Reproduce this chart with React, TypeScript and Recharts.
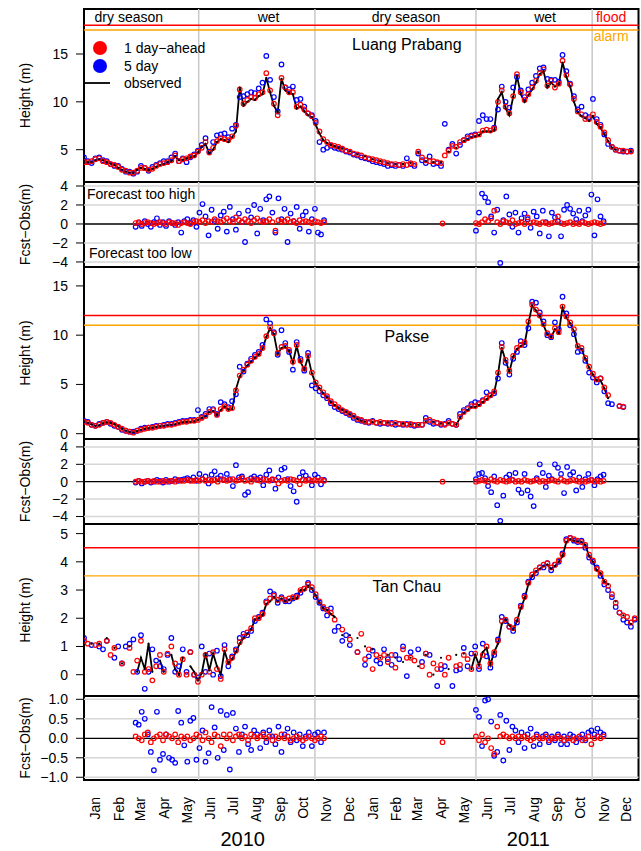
import React from 'react'
import {
  ComposedChart,
  Line,
  XAxis,
  YAxis,
  ReferenceLine,
  ReferenceArea,
  ReferenceDot,
} from 'recharts'

const FONT = '"Liberation Sans", Arial, Helvetica, sans-serif'

// ---------- time axis (days since 1 Jan 2010) ----------
const monthNames = ['Jan', 'Feb', 'Mar', 'Apr', 'May', 'Jun', 'Jul', 'Aug', 'Sep', 'Oct', 'Nov', 'Dec']
const monthStarts = [0, 31, 59, 90, 120, 151, 181, 212, 243, 273, 304, 334,
  365, 396, 424, 455, 485, 516, 546, 577, 608, 638, 669, 699]
const monthMids = monthStarts.map((d) => d + 15)
const seasonBreaks = [151, 304, 516, 669]
const yearTicks = [209, 585]
const yearLabels = ['2010', '2011']

function range(a: number, b: number, step: number) {
  const out: number[] = []
  for (let d = a; d <= b; d += step) out.push(d)
  return out
}
const gridDays = range(0, 725, 5)
const resDays2010 = range(68, 316, 4)
const resDays2011 = range(516, 684, 4)
const aprDay = 472

// ---------- Luang Prabang ----------
const lpObs = [
  3.8, 3.7, 3.7, 3.9, 4.0, 3.9, 3.7, 3.55, 3.4, 3.1,
  2.9, 2.7, 2.6, 2.55, 2.9, 3.1, 3.0, 2.85, 3.0, 3.2,
  3.4, 3.5, 3.7, 3.8, 4.3, 3.9, 3.95, 4.1, 4.2, 4.3,
  4.7, 5.3, 5.6, 4.6, 5.0, 5.8, 6.1, 6.0, 5.8, 6.3,
  6.9, 11.5, 9.6, 10.0, 10.3, 10.2, 10.6, 10.8, 12.5, 11.0,
  9.6, 8.9, 12.4, 11.2, 10.9, 10.8, 9.3, 9.5, 9.0, 8.6,
  8.4, 7.6, 6.7, 6.0, 5.7, 5.5, 5.35, 5.2, 5.1, null,
  4.8, null, 4.5, null, 4.3, null, 4.0, null, 3.8, null,
  3.6, null, 3.5, null, 3.5, null, 3.6, null, 4.7, null,
  3.8, null, 3.7, null, 3.7, null, 4.8, null, 5.2, null,
  5.9, 6.1, 6.3, 6.4, 6.5, 6.9, 6.9, 6.9, 7.0, 10.3,
  11.0, 9.3, 8.6, 10.5, 12.7, 10.8, 10.0, 10.7, 11.3, 12.0,
  12.9, 13.2, 11.5, 12.0, 11.6, 11.8, 14.1, 12.6, 11.6, 10.0,
  8.9, 8.5, 8.3, 8.0, 8.5, 7.7, 7.3, 6.6, 5.9, 5.2,
  5.0, null, 4.9, null, 4.85, null,
]
const lpFc1 = [
  3.7, 3.7, 3.8, 4.0, 4.1, 3.8, 3.7, 3.5, 3.4, 3.2,
  2.9, 2.8, 2.6, 2.6, 2.8, 3.1, 3.1, 2.9, 3.0, 3.3,
  3.5, 3.6, 3.7, 3.9, 4.4, 3.8, 4.0, 4.1, 4.3, 4.4,
  4.8, 5.2, 5.8, 4.7, 5.2, 5.9, 6.2, 6.1, 6.0, 6.4,
  7.5, 11.3, 9.8, 10.2, 10.5, 10.4, 10.8, 11.0, 13.0, 11.2,
  9.8, 8.6, 12.5, 11.5, 11.0, 11.0, 9.5, 9.7, 9.2, 8.8,
  8.5, 7.8, 6.9, 6.1, 5.8, 5.5, 5.4, 5.3, 5.1, 4.9,
  4.8, 4.6, 4.5, 4.4, 4.2, 4.1, 4.0, 3.9, 3.8, 3.7,
  3.6, 3.5, 3.5, 3.4, 3.5, 3.4, 3.6, 3.5, 4.8, 4.2,
  3.9, 3.8, 3.8, 3.7, 3.6, 4.4, 4.9, 5.4, 5.3, 5.8,
  6.0, 6.2, 6.4, 6.5, 6.6, 7.0, 7.1, 7.0, 7.2, 10.0,
  11.2, 9.5, 8.8, 10.6, 12.9, 11.0, 10.2, 10.8, 11.5, 12.2,
  13.0, 13.4, 11.7, 12.2, 11.5, 11.9, 14.3, 12.8, 11.8, 10.3,
  9.0, 8.7, 8.2, 8.2, 8.7, 7.9, 7.4, 6.8, 6.0, 5.3,
  5.0, 4.9, 4.9, 4.8, 4.8, null,
]
const lpFc5 = [
  4.2, 3.8, 3.6, 4.1, 4.2, 3.9, 3.8, 3.5, 3.3, 3.3,
  3.0, 2.7, 2.7, 2.5, 2.7, 3.3, 3.1, 2.8, 3.2, 3.4,
  3.6, 3.8, 3.8, 4.2, 4.6, 3.8, 4.1, 3.7, 4.2, 4.5,
  4.9, 5.5, 6.2, 4.8, 5.8, 6.5, 6.6, 6.7, 6.3, 7.2,
  7.6, 10.5, 10.6, 10.8, 11.0, 10.9, 11.4, 12.0, 14.8, 12.3,
  10.5, 9.0, 13.9, 11.5, 11.3, 11.6, 10.2, 10.3, 9.5, 8.8,
  8.6, 8.0, 5.8, 5.0, 5.2, 5.4, 5.2, 5.1, 5.0, 4.8,
  4.7, 4.5, 4.4, 4.2, 4.1, 4.0, 3.8, 3.7, 3.6, 3.5,
  3.3, 3.4, 3.3, 3.4, 3.3, 4.1, 3.5, 3.3, 4.6, 3.9,
  3.6, 4.3, 3.5, 3.6, 3.3, 7.7, 5.0, 5.6, 4.6, 5.5,
  6.0, 6.4, 6.5, 6.6, 8.0, 8.6, 8.2, 8.2, 7.3, 9.2,
  11.6, 10.0, 9.4, 11.5, 12.6, 11.2, 10.5, 11.3, 12.0, 12.7,
  13.5, 13.6, 12.4, 12.3, 12.3, 12.1, 14.9, 13.2, 11.9, 10.6,
  9.2, 9.5, 8.6, 8.4, 10.3, 8.2, 7.6, 6.6, 5.6, 5.3,
  5.0, 4.9, 4.8, 4.8, 4.9, null,
]
const lpErr1a = [
  0.1, 0.2, 0.0, 0.1, 0.2, 0.1, 0.0, 0.1, 0.2, 0.1,
  0.0, 0.2, 0.1, 0.1, -0.1, 0.1, 0.2, 0.1, 0.0, 0.2,
  0.3, 0.2, 0.4, 0.1, 0.3, 0.2, 0.5, 0.3, 0.2, 0.4,
  0.6, 0.3, 0.2, 0.7, 0.4, 0.2, 0.5, 0.3, 0.1, 0.4,
  0.6, 0.3, 0.2, 0.3, 0.5, 0.2, -0.7, 0.4, 0.2, 0.3,
  0.5, 0.2, 0.3, 0.1, 0.4, 0.2, 0.3, 0.2, 0.1, 0.3,
  0.2, 0.1, 0.2,
]
const lpErr5a = [
  -0.3, 0.1, -0.2, 0.3, 0.0, -0.3, 0.2, 0.6, -0.1, 0.2,
  -0.2, 0.3, 0.1, -0.1, 0.2, -0.9, 0.3, 0.5, 0.1, 0.4,
  -0.3, 1.2, 2.1, 0.8, -1.2, 1.5, 0.3, -0.5, 0.9, 1.3,
  -0.8, 1.8, 0.5, -0.6, 1.1, 0.2, -1.9, 1.4, 0.7, 2.0,
  -1.0, 1.6, 0.4, 2.6, 2.9, 1.2, -0.9, 2.7, 0.5, 1.6,
  -1.9, 1.1, 0.3, 1.8, -0.5, 0.9, 1.3, -0.8, 0.5, 1.6,
  -0.9, -1.1, 0.4,
]
const lpErr1Apr = 0.05
const lpErr1b = [
  0.1, 0.0, 0.2, 0.5, 0.3, 0.6, 1.4, 0.2, 0.0, 0.3,
  0.2, 0.1, 0.4, 0.0, 0.1, 0.2, 0.0, 0.7, 0.1, 0.2,
  0.1, 0.0, 0.2, 0.1, 0.0, 0.1, 0.2, 0.8, 0.1, 0.0,
  0.1, 0.2, 0.0, 0.1, 0.0, 0.2, 0.1, 0.0, 0.1, 0.2,
  0.1, 0.0, 0.1,
]
const lpErr5b = [
  -0.7, 1.2, 3.2, 2.8, 2.3, 0.8, -0.9, 1.5, -4.1, 0.4,
  2.9, 1.0, -0.3, 1.2, -0.9, 0.6, 1.1, 0.5, -0.4, 1.3,
  0.8, -1.0, 1.4, 0.2, -1.3, 1.2, 0.7, 0.3, -1.3, 1.5,
  2.0, 1.6, 1.1, 0.5, 1.4, 0.3, 0.9, 1.5, 3.1, -1.2,
  2.6, 0.8, 0.3,
]

// ---------- Pakse ----------
const pkObs = [
  1.2, 1.1, 0.95, 0.8, 0.85, 1.05, 1.15, 1.1, 0.95, 0.75,
  0.5, 0.3, 0.18, 0.12, 0.25, 0.4, 0.5, 0.55, 0.62, 0.7,
  0.75, 0.8, 0.85, 0.9, 0.95, 1.05, 1.15, 1.2, 1.2, 1.25,
  1.4, 1.6, 1.75, 2.2, 2.3, 1.9, 2.4, 2.75, 2.45, 2.5,
  4.5, 5.8, 6.4, 6.9, 7.3, 7.7, 8.0, 8.6, 9.8, 10.7,
  10.1, 8.1, 8.7, 8.8, 8.4, 7.2, 8.9, 7.3, 6.5, 7.8,
  6.1, 5.1, 4.6, 4.1, 3.7, 3.2, 2.9, 2.6, 2.4, 2.2,
  1.95, 1.75, 1.5, 1.3, 1.2, null, 1.2, null, 1.15, null,
  1.1, null, 1.05, null, 1.0, null, 0.95, null, 0.9, null,
  1.2, null, 1.2, null, 1.0, null, 1.05, null, 0.9, 1.6,
  2.1, 2.4, 2.7, 2.7, 2.9, 3.2, 3.5, 3.8, 4.2, 6.0,
  8.7, 7.4, 6.3, 7.8, 8.6, 8.9, 9.1, 11.2, 13.0, 12.5,
  11.9, 11.0, 10.1, 9.8, 10.6, 10.2, 12.8, 11.8, 11.2, 10.4,
  8.8, 8.6, 7.6, 6.7, 6.0, 5.4, 5.4, 4.6, 3.6, null,
  null, null, null, null, null, null,
]
const pkFc1 = [
  1.2, 1.1, 0.9, 0.8, 0.9, 1.1, 1.2, 1.1, 0.9, 0.7,
  0.5, 0.3, 0.2, 0.1, 0.3, 0.4, 0.5, 0.6, 0.6, 0.7,
  0.8, 0.8, 0.9, 0.9, 1.0, 1.1, 1.2, 1.2, 1.3, 1.3,
  1.4, 1.6, 1.8, 2.2, 2.4, 1.9, 2.5, 2.8, 2.5, 2.6,
  4.4, 5.9, 6.5, 7.0, 7.4, 7.8, 8.1, 8.7, 9.9, 10.8,
  10.2, 8.2, 8.8, 8.9, 8.5, 7.3, 9.0, 7.4, 6.6, 7.9,
  6.2, 5.2, 4.7, 4.2, 3.8, 3.3, 3.0, 2.7, 2.4, 2.2,
  2.0, 1.8, 1.5, 1.4, 1.2, 1.2, 1.2, 1.1, 1.2, 1.1,
  1.1, 1.0, 1.1, 1.0, 1.0, 0.9, 1.0, 0.9, 0.9, 0.9,
  1.3, 1.4, 1.2, 1.1, 1.0, 0.9, 1.1, 1.0, 0.9, 1.7,
  2.2, 2.5, 2.8, 2.8, 3.0, 3.3, 3.6, 3.9, 4.3, 6.2,
  8.8, 7.5, 6.4, 7.9, 8.7, 9.0, 9.3, 11.4, 13.1, 12.6,
  12.0, 11.1, 10.2, 9.9, 10.7, 10.3, 12.9, 11.9, 11.3, 10.6,
  8.9, 8.7, 7.7, 6.8, 6.1, 5.5, 5.6, 4.7, 3.9, null,
  null, 2.8, 2.75, null, null, null,
]
const pkFc5 = [
  1.3, 1.2, 0.9, 0.8, 1.0, 1.1, 1.2, 1.0, 0.8, 0.7,
  0.4, 0.3, 0.2, 0.2, 0.3, 0.5, 0.6, 0.6, 0.7, 0.8,
  0.8, 0.9, 1.0, 1.0, 1.1, 1.2, 1.3, 1.3, 1.4, 1.4,
  2.4, 1.7, 2.0, 2.5, 2.5, 2.0, 3.2, 3.0, 2.7, 3.3,
  4.0, 6.8, 6.3, 7.1, 7.6, 8.0, 8.3, 9.0, 11.6, 11.2,
  10.3, 8.0, 10.5, 9.2, 8.3, 6.5, 9.3, 7.6, 6.4, 8.2,
  4.9, 4.6, 4.3, 3.9, 3.6, 3.1, 2.7, 2.5, 2.3, 2.1,
  1.9, 1.6, 1.4, 1.3, 1.2, 1.1, 1.3, 1.1, 1.0, 1.1,
  1.0, 1.1, 0.9, 1.0, 0.9, 1.0, 0.9, 0.8, 0.9, 0.9,
  1.6, 1.2, 1.0, 1.1, 0.9, 1.0, 1.3, 1.0, 0.9, 2.0,
  2.4, 2.6, 3.0, 3.2, 3.1, 3.4, 4.2, 3.9, 4.1, 5.6,
  9.2, 7.2, 6.0, 7.6, 8.3, 9.4, 9.0, 10.7, 13.4, 13.3,
  12.3, 11.4, 10.0, 9.8, 11.3, 10.6, 13.9, 12.2, 11.0, 10.1,
  8.3, 8.4, 7.4, 6.2, 5.7, 5.2, 5.6, 4.3, 3.1, 3.0,
  null, 2.8, 2.7, null, null, null,
]
const pkErr1a = [
  0.0, 0.1, 0.0, 0.0, 0.1, 0.0, 0.1, 0.0, 0.0, 0.1,
  0.0, 0.1, 0.1, 0.0, 0.2, 0.1, 0.1, 0.2, 0.1, 0.1,
  0.2, 0.1, 0.3, 0.1, 0.2, 0.1, 0.2, 0.0, 0.3, 0.2,
  0.1, 0.2, 0.3, 0.1, 0.2, 0.4, 0.1, 0.2, 0.0, 0.3,
  0.2, 0.1, 0.3, 0.2, 0.1, 0.3, 0.2, -0.2, 0.1, 0.2,
  0.1, 0.3, 0.2, 0.1, -0.3, 0.2, 0.1, 0.2, 0.1, 0.2,
  0.1, 0.2, 0.1,
]
const pkErr5a = [
  -0.1, 0.1, -0.2, 0.0, 0.1, -0.1, 0.0, 0.2, 0.1, -0.1,
  0.2, 0.0, 0.1, 0.3, 0.1, 0.2, 0.3, 0.4, 0.2, 0.5,
  0.1, 0.9, 0.3, 0.6, -0.2, 0.8, 1.2, 0.4, 0.7, 0.2,
  0.9, 0.3, -0.5, 1.9, 0.5, 0.6, -1.5, -1.2, 0.4, 0.6,
  0.3, 0.5, -0.4, 0.8, 1.3, 0.2, -0.8, 0.5, 1.4, 1.6,
  0.3, -0.5, -1.1, -2.3, 0.5, 1.1, 0.7, 0.3, -0.4, 0.8,
  0.5, -0.3, 0.2,
]
const pkErr1Apr = 0.0
const pkErr1b = [
  0.0, 0.1, 0.2, 0.1, 0.0, 0.3, 0.1, 0.0, 0.2, 0.1,
  0.0, 0.1, 0.2, 0.0, 0.1, 0.0, 0.2, 0.1, 0.0, 0.1,
  0.2, 0.0, 0.1, 0.0, 0.1, 0.2, 0.1, 0.0, 0.3, 0.1,
  0.0, 0.1, 0.2, 0.1, 0.0, 0.1, 0.0, 0.1, 0.2, 0.0,
  0.1, 0.0, 0.1,
]
const pkErr5b = [
  0.3, 0.9, 1.0, 0.4, -0.5, -1.2, 0.6, -2.7, -4.5, -1.6,
  0.5, 0.8, 0.2, 1.0, -0.9, -1.3, 0.9, -1.0, -1.7, -2.8,
  0.4, 2.0, 1.0, -0.6, 0.7, 0.3, 2.0, 1.6, 0.9, -1.3,
  1.7, 0.8, 1.1, -1.0, 0.5, -0.6, 0.3, 0.9, 0.2, -0.4,
  0.3, 0.6, 0.8,
]

// ---------- Tan Chau ----------
const tcObs = [
  1.4, null, 1.1, null, 1.1, null, 1.3, null, 0.95, null,
  0.4, null, 1.0, null, 0.1, 0.6, 0.2, 1.1, 0.1, null,
  0.5, 0.1, null, 0.7, 0.2, 0.0, 0.6, null, 0.3, 0.1,
  -0.2, 0.05, 0.75, 0.15, 0.75, 0.3, 0.0, 0.85, 0.4, 0.55,
  0.8, 1.1, 1.3, 1.45, 1.6, 1.95, 2.0, 2.1, 2.5, 2.6,
  2.75, 2.6, 2.7, 2.6, 2.65, 2.7, 2.7, 3.0, 3.0, 3.15,
  3.05, 2.8, 2.55, 2.35, 2.3, 2.15, 2.05, null, 1.4, null,
  1.4, null, 1.3, null, 1.0, null, 0.9, null, 0.6, null,
  0.7, null, 0.6, null, 0.45, null, 0.6, null, 0.3, null,
  0.7, null, 0.0, null, 0.6, null, 0.2, null, 0.7, null,
  0.75, null, 0.2, 0.7, 0.35, 0.8, 0.95, 0.35, 0.8, 1.1,
  1.8, 1.95, 1.75, 1.6, 1.9, 2.35, 2.7, 3.2, 3.5, 3.65,
  3.75, 3.85, 3.9, 3.75, 3.85, 4.0, 4.2, 4.7, 4.8, 4.75,
  4.72, 4.7, 4.6, 4.2, 4.0, 3.7, 3.6, 3.3, 3.2, null,
  2.6, null, 2.1, null, 1.8, null,
]
const tcFc1 = [
  1.2, 1.1, null, 1.05, 1.1, null, 1.2, 0.7, 0.95, null,
  0.4, null, 0.95, 0.1, 0.5, 1.2, 0.1, 0.2, -0.2, 0.3,
  0.7, 0.1, 0.75, 1.0, 0.4, 0.0, 0.55, 0.0, 0.8, 0.0,
  -0.25, 0.0, 0.7, 0.1, 0.8, 0.2, -0.15, 0.9, 0.45, 0.6,
  0.85, 1.15, 1.35, 1.5, 1.65, 2.0, 2.0, 2.15, 2.55, 2.7,
  2.8, 2.65, 2.7, 2.65, 2.7, 2.75, 2.75, 3.0, 3.05, 3.2,
  3.1, 2.85, 2.6, 2.4, 2.3, 2.2, 1.95, null, 1.6, null,
  1.25, null, 0.8, 1.45, 0.55, 0.9, 0.2, 0.7, 0.6, 0.7,
  0.45, 0.7, 0.25, null, 0.9, 0.6, 0.6, 0.5, null, 0.3,
  0.75, 0.0, 0.4, 0.2, 0.35, 0.0, 0.6, null, 0.3, 0.35,
  0.7, 0.55, 0.2, 0.75, 0.3, 0.7, 1.0, 0.4, 0.8, 1.2,
  1.9, 1.95, 1.7, 1.65, 1.95, 2.4, 2.75, 3.25, 3.55, 3.7,
  3.8, 3.9, 3.95, 3.8, 3.9, 4.05, 4.25, 4.75, 4.85, 4.8,
  4.75, 4.7, 4.6, 4.25, 4.05, 3.75, 3.6, 3.3, 3.15, 2.85,
  2.55, 2.2, 2.1, 2.05, 1.85, 2.0,
]
const tcFc5 = [
  1.3, null, 1.05, null, 1.0, 0.9, 1.2, null, 0.6, 1.0,
  0.4, 1.0, 1.1, 1.25, 0.1, 1.4, -0.5, 0.1, 0.9, 0.5,
  0.3, 0.2, 0.7, 1.3, 0.1, 0.3, 0.9, 0.1, 0.8, 0.0,
  -0.1, 1.0, 0.1, 0.75, 0.0, 0.85, -0.05, 1.05, 0.3, 0.65,
  0.9, 1.3, 1.45, 1.4, 1.55, 1.9, 2.05, 2.2, 2.6, 2.95,
  2.85, 2.55, 2.75, 2.6, 2.6, 2.7, 2.8, 2.9, 3.05, 3.25,
  3.0, 2.75, 2.55, 2.35, 2.1, 2.35, 1.55, 1.7, 1.2, 1.4,
  1.05, null, 0.8, null, 0.35, 0.65, 0.85, 0.5, 0.4, 0.9,
  0.55, 0.35, 0.7, 0.55, 1.0, -0.05, 0.8, null, 0.9, 0.45,
  0.75, 0.7, null, -0.4, 0.2, 0.3, null, -0.4, 0.15, 0.2,
  0.95, 0.3, 0.75, 1.0, 0.2, 1.1, 0.65, 0.25, 0.7, 1.25,
  2.05, 1.9, 1.7, 1.55, 1.85, 2.45, 2.8, 3.3, 3.45, 3.6,
  3.8, 3.8, 3.95, 3.7, 3.9, 4.0, 4.3, 4.8, 4.85, 4.75,
  4.7, 4.75, 4.5, 4.15, 4.0, 3.8, 3.5, 3.2, 3.0, 2.75,
  2.4, 2.2, 1.95, 1.85, 1.7, 1.95,
]
const tcErr1a = [
  0.05, 0.0, -0.05, 0.1, 0.15, -0.1, 0.0, 0.05, 0.1, -0.05,
  0.1, 0.05, 0.0, 0.1, -0.1, 0.05, 0.0, 0.05, -0.05, 0.0,
  0.1, 0.05, -0.05, 0.15, 0.0, -0.1, 0.1, 0.05, -0.2, 0.1,
  0.0, 0.1, -0.05, 0.05, 0.1, 0.0, 0.05, -0.05, 0.1, 0.05,
  0.0, 0.05, 0.1, 0.0, 0.05, -0.05, 0.05, 0.0, 0.1, 0.0,
  0.05, -0.05, 0.0, 0.05, 0.0, -0.05, 0.0, 0.05, 0.0, -0.05,
  0.0, 0.05, 0.0,
]
const tcErr5a = [
  0.4, 0.35, 0.68, 0.5, 0.1, -0.35, -0.82, 0.68, -0.55, -0.4,
  0.1, -0.5, -0.55, -0.63, 0.7, 0.4, -0.18, -0.6, 0.45, 0.52,
  -0.55, -0.25, 0.2, -0.6, -0.38, 0.8, 0.28, -0.5, 0.7, -0.3,
  0.6, -0.8, 0.65, 0.25, -0.35, 0.1, 0.3, -0.15, -0.3, 0.2,
  0.1, -0.25, 0.15, -0.1, 0.2, 0.05, -0.15, 0.3, -0.35, 0.1,
  0.25, -0.1, 0.15, -0.05, 0.1, -0.2, 0.05, 0.15, -0.2, 0.1,
  0.15, -0.1, 0.15,
]
const tcErr1Apr = -0.1
const tcErr1b = [
  0.05, -0.05, 0.1, -0.1, 0.0, -0.25, -0.4, 0.3, 0.05, 0.1,
  0.05, 0.0, 0.05, 0.0, 0.05, 0.0, 0.05, 0.0, -0.05, 0.0,
  0.05, 0.0, 0.0, 0.05, -0.05, 0.0, 0.0, 0.05, 0.0, -0.05,
  0.0, 0.0, -0.05, 0.0, 0.05, -0.05, 0.0, 0.05, -0.15, 0.0,
  0.05, 0.0, 0.05,
]
const tcErr5b = [
  0.73, 0.55, -0.2, 0.97, 1.0, 0.43, -0.45, -0.35, 0.6, -0.57,
  0.45, -0.3, 0.3, 0.2, -0.1, 0.15, -0.25, 0.1, 0.25, -0.2,
  0.1, -0.15, 0.05, 0.1, -0.1, 0.05, -0.05, 0.1, -0.15, 0.05,
  -0.15, 0.1, 0.05, -0.1, 0.0, 0.1, -0.05, 0.15, 0.2, 0.1,
  0.25, 0.15, 0.1,
]

// ---------- table builders ----------
type Val = number | null
function heightRows(obs: Val[], f1: Val[], f5: Val[]) {
  return gridDays.map((day, i) => ({ day, obs: obs[i] ?? null, f1: f1[i] ?? null, f5: f5[i] ?? null }))
}
function residRows(e1a: Val[], e5a: Val[], e1apr: number, e1b: Val[], e5b: Val[]) {
  const rows: { day: number; e1: Val; e5: Val }[] = []
  resDays2010.forEach((day, i) => rows.push({ day, e1: e1a[i] ?? null, e5: e5a[i] ?? null }))
  rows.push({ day: aprDay, e1: e1apr, e5: null })
  resDays2011.forEach((day, i) => rows.push({ day, e1: e1b[i] ?? null, e5: e5b[i] ?? null }))
  return rows
}

const RED = '#ff0000'
const BLUE = '#0000ff'
const ORANGE = '#ffa500'
const GREY = '#c8c8c8'
const PAD = 12

const minus = (s: string) => s.replace('-', '\u2212')

function AxisTitle(props: any) {
  const { text, cy } = props
  return (
    <text x={25} y={cy} transform={`rotate(-90 25 ${cy})`} textAnchor="middle"
      dominantBaseline="central" fontSize={14} fill="#000">
      {text}
    </text>
  )
}

function PlotText(props: any) {
  const vb = props.viewBox || { x: 0, y: 0, width: 0, height: 0 }
  return (
    <text x={vb.x + vb.width / 2} y={vb.y + vb.height / 2} textAnchor={props.anchor ?? 'middle'}
      dominantBaseline="central" fontSize={props.size ?? 14} fill={props.color ?? '#000'}>
      {props.text}
    </text>
  )
}

function MonthTick(props: any) {
  const { x, y, payload } = props
  const i = monthMids.indexOf(payload.value)
  return (
    <text x={x} y={y} transform={`rotate(-90 ${x} ${y})`} textAnchor="end"
      dominantBaseline="central" fontSize={14} fill="#000">
      {monthNames[i % 12]}
    </text>
  )
}

type Txt = { x: number; y: number; text: string; color?: string; size?: number; anchor?: string }

interface PanelProps {
  top: number
  height: number
  rows: any[]
  domain: [number, number]
  ticks: number[]
  fmt: (v: number) => string
  yTitle: string
  kind: 'height' | 'resid'
  hLines: { y: number; color: string; width: number }[]
  texts?: Txt[]
  xAxis?: boolean
}

function Panel(p: PanelProps) {
  const axisH = p.xAxis ? 71 : 0
  const padBottom = p.xAxis ? 0 : PAD
  const k1 = p.kind === 'height' ? 'f1' : 'e1'
  const k5 = p.kind === 'height' ? 'f5' : 'e5'
  return (
    <div style={{ position: 'absolute', left: 0, top: p.top - PAD }}>
      <ComposedChart width={641} height={p.height + axisH + PAD + padBottom} data={p.rows}
        margin={{ top: PAD, right: 2.5, bottom: padBottom, left: 0 }}>
        {p.xAxis ? (
          <XAxis dataKey="day" type="number" domain={[0, 730]} allowDataOverflow ticks={monthStarts}
            interval={0} height={8} tickSize={8} tick={false} axisLine={false}
            tickLine={{ stroke: '#000', strokeWidth: 1 }} />
        ) : (
          <XAxis dataKey="day" type="number" domain={[0, 730]} allowDataOverflow hide />
        )}
        {p.xAxis && (
          <XAxis xAxisId="months" dataKey="day" type="number" domain={[0, 730]} allowDataOverflow
            ticks={monthMids} interval={0} height={42} tickSize={0} tickMargin={9}
            axisLine={false} tickLine={false} tick={<MonthTick />} />
        )}
        {p.xAxis && (
          <XAxis xAxisId="years" dataKey="day" type="number" domain={[0, 730]} allowDataOverflow
            ticks={yearTicks} interval={0} height={21} tickSize={0} tickMargin={2}
            axisLine={false} tickLine={false}
            tickFormatter={(v: number) => yearLabels[yearTicks.indexOf(v)]}
            tick={{ fontSize: 20, fill: '#000' }} />
        )}
        <YAxis type="number" domain={p.domain} allowDataOverflow ticks={p.ticks} interval={0}
          width={84} tickSize={8} tickMargin={8} axisLine={false}
          tickLine={{ stroke: '#000', strokeWidth: 1 }}
          tick={{ fontSize: 14, fill: '#000' }} tickFormatter={p.fmt}
          label={<AxisTitle text={p.yTitle} cy={PAD + p.height / 2} />} />

        {seasonBreaks.map((d) => (
          <ReferenceLine key={`s${d}`} x={d} stroke={GREY} strokeWidth={1.5} />
        ))}
        {p.hLines.map((h) => (
          <ReferenceLine key={`h${h.y}`} y={h.y} stroke={h.color} strokeWidth={h.width} />
        ))}

        <Line dataKey={k5} stroke="none" isAnimationActive={false} activeDot={false}
          dot={{ r: 2.3, stroke: BLUE, strokeWidth: 1.2, fill: 'none' }} />
        <Line dataKey={k1} stroke="none" isAnimationActive={false} activeDot={false}
          dot={{ r: 2.3, stroke: RED, strokeWidth: 1.2, fill: 'none' }} />
        {p.kind === 'height' && (
          <Line dataKey="obs" stroke="#000" strokeWidth={1.8} connectNulls={false}
            isAnimationActive={false} activeDot={false}
            dot={{ r: 1.1, fill: '#000', stroke: '#000', strokeWidth: 0 }} />
        )}

        {(p.texts || []).map((t, i) => (
          <ReferenceDot key={`t${i}`} x={t.x} y={t.y} r={0} ifOverflow="visible"
            label={<PlotText text={t.text} color={t.color} size={t.size} anchor={t.anchor} />} />
        ))}

        <ReferenceArea x1={0} x2={730} y1={p.domain[0]} y2={p.domain[1]} fill="none"
          stroke="#000" strokeWidth={2} ifOverflow="visible" />
      </ComposedChart>
    </div>
  )
}

const lpRows = heightRows(lpObs, lpFc1, lpFc5)
const pkRows = heightRows(pkObs, pkFc1, pkFc5)
const tcRows = heightRows(tcObs, tcFc1, tcFc5)
const lpRes = residRows(lpErr1a, lpErr5a, lpErr1Apr, lpErr1b, lpErr5b)
const pkRes = residRows(pkErr1a, pkErr5a, pkErr1Apr, pkErr1b, pkErr5b)
const tcRes = residRows(tcErr1a, tcErr5a, tcErr1Apr, tcErr1b, tcErr5b)

const intFmt = (v: number) => minus(String(v))
const oneDec = (v: number) => minus(v.toFixed(1))
const zeroLine = { y: 0, color: '#000', width: 1.3 }
const gridCol = '#d6d6d6'

export default function App() {
  return (
    <div style={{ position: 'absolute', left: 0, top: 0, width: 641, height: 851, background: '#fff', fontFamily: FONT }}>
      <Panel top={9} height={173} rows={lpRows} domain={[1.625, 19.7]} ticks={[5, 10, 15]} fmt={intFmt}
        yTitle="Height (m)" kind="height"
        hLines={[{ y: 18, color: RED, width: 1.4 }, { y: 17.5, color: ORANGE, width: 1.4 }]}
        texts={[
          { x: 59, y: 18.87, text: 'dry season' },
          { x: 243, y: 18.87, text: 'wet' },
          { x: 424, y: 18.87, text: 'dry season' },
          { x: 607, y: 18.87, text: 'wet' },
          { x: 694, y: 18.87, text: 'flood', color: RED },
          { x: 694, y: 16.88, text: 'alarm', color: ORANGE },
          { x: 425, y: 15.94, text: 'Luang Prabang', size: 16 },
        ]} />
      <Panel top={182} height={85} rows={lpRes} domain={[-4.53, 4.42]} ticks={[-4, -2, 0, 2, 4]} fmt={intFmt}
        yTitle={'Fcst\u2212Obs(m)'} kind="resid"
        hLines={[
          { y: -4, color: gridCol, width: 1.5 }, { y: -2, color: gridCol, width: 1.5 },
          { y: 2, color: gridCol, width: 1.5 }, { y: 4, color: gridCol, width: 1.5 }, zeroLine,
        ]}
        texts={[
          { x: 4, y: 3.16, text: 'Forecast too high', anchor: 'start' },
          { x: 6.5, y: -3.02, text: 'Forecast too low', anchor: 'start' },
        ]} />
      <Panel top={267} height={172} rows={pkRows} domain={[-0.54, 16.92]} ticks={[0, 5, 10, 15]} fmt={intFmt}
        yTitle="Height (m)" kind="height"
        hLines={[{ y: 12, color: RED, width: 1.4 }, { y: 11, color: ORANGE, width: 1.4 }]}
        texts={[{ x: 425, y: 9.85, text: 'Pakse', size: 16 }]} />
      <Panel top={439} height={85} rows={pkRes} domain={[-4.86, 4.91]} ticks={[-4, -2, 0, 2, 4]} fmt={intFmt}
        yTitle={'Fcst\u2212Obs(m)'} kind="resid"
        hLines={[
          { y: -4, color: gridCol, width: 1.5 }, { y: -2, color: gridCol, width: 1.5 },
          { y: 2, color: gridCol, width: 1.5 }, { y: 4, color: gridCol, width: 1.5 }, zeroLine,
        ]} />
      <Panel top={524} height={172} rows={tcRows} domain={[-0.755, 5.34]} ticks={[0, 1, 2, 3, 4, 5]} fmt={intFmt}
        yTitle="Height (m)" kind="height"
        hLines={[{ y: 4.5, color: RED, width: 1.4 }, { y: 3.5, color: ORANGE, width: 1.4 }]}
        texts={[{ x: 425, y: 3.12, text: 'Tan Chau', size: 16 }]} />
      <Panel top={696} height={84} rows={tcRes} domain={[-1.07, 1.085]} ticks={[-1, -0.5, 0, 0.5, 1]} fmt={oneDec}
        yTitle={'Fcst\u2212Obs(m)'} kind="resid" xAxis
        hLines={[
          { y: -1, color: gridCol, width: 1.5 }, { y: -0.5, color: gridCol, width: 1.5 },
          { y: 0.5, color: gridCol, width: 1.5 }, { y: 1, color: gridCol, width: 1.5 }, zeroLine,
        ]} />

      <svg width={130} height={56} style={{ position: 'absolute', left: 84, top: 38 }}>
        <circle cx={16} cy={10} r={7} fill={RED} />
        <circle cx={16} cy={28} r={7} fill={BLUE} />
        <line x1={1} x2={26} y1={45} y2={45} stroke="#000" strokeWidth={1.8} />
        <text x={40} y={10} dominantBaseline="central" fontSize={14} fill="#000">{'1 day\u2212ahead'}</text>
        <text x={40} y={28} dominantBaseline="central" fontSize={14} fill="#000">5 day</text>
        <text x={40} y={45} dominantBaseline="central" fontSize={14} fill="#000">observed</text>
      </svg>
    </div>
  )
}
